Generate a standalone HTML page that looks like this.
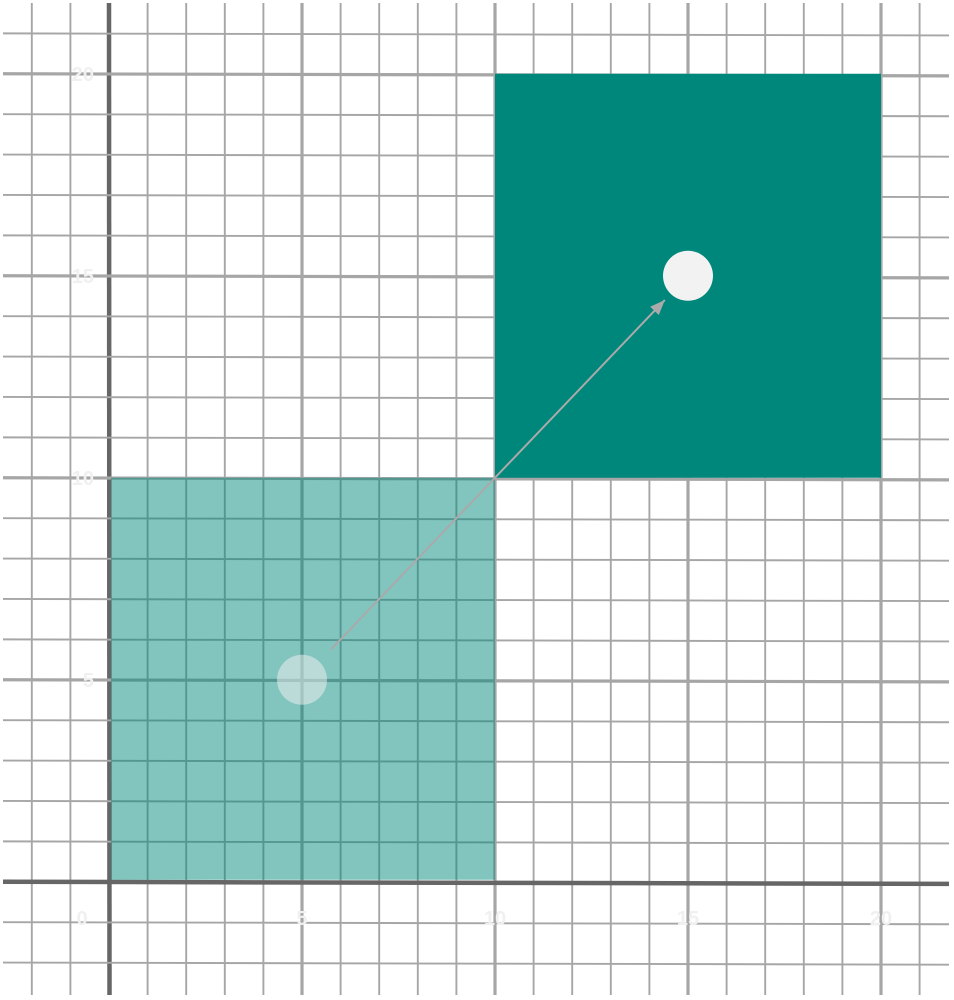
<!DOCTYPE html>
<html><head><meta charset="utf-8"><style>
html,body{margin:0;padding:0;background:#fff;width:954px;height:1000px;overflow:hidden}
svg{display:block}
text{font-family:"Liberation Sans",sans-serif;font-size:20px;fill:#f0f0f0}
</style></head><body>
<svg id="chart" width="954" height="1000" viewBox="0 0 954 1000"></svg>
<script>
const xTicks=[0,5,10,15,20];
const yTicks=[5,10,15,20];
const xTickLabels=["0","5","10","15","20"];
const yTickLabels=["5","10","15","20"];
const squareLow=[0,0,10,10];
const squareHigh=[10,10,20,20];
const pointStart=[5,5];
const pointEnd=[15,15];
const arrowFrom=[5.75,5.75];
const arrowTo=[14.4,14.4];
const xMin=-2.8,xMax=21.8,yMin=-2.8,yMax=21.8;

const X=u=>109+38.6*u;
const Y=(v,px)=>882-40.4*v+((px||0)-108)*0.0022;
const NS="http://www.w3.org/2000/svg";
const svg=document.getElementById('chart');
function mk(tag,attrs){const e=document.createElementNS(NS,tag);for(const k in attrs)e.setAttribute(k,attrs[k]);svg.appendChild(e);return e;}

// grid
for(let u=Math.ceil(xMin);u<=Math.floor(xMax);u++){
  const major=u%5===0;
  const l=mk('line',{x1:X(u),y1:3,x2:X(u)+(u===0?0.5:0),y2:995,stroke:u===0?'#666':'#a6a6a6','stroke-width':u===0?4.5:(major?3.2:1.9)});
  
  
}
for(let v=Math.ceil(yMin);v<=Math.floor(yMax);v++){
  const major=v%5===0;
  const l=mk('line',{x1:3,y1:Y(v,3),x2:949,y2:Y(v,949),stroke:v===0?'#666':'#a6a6a6','stroke-width':v===0?4.5:(major?3.2:1.9)});
  
  
}

// light square (over grid, semi-transparent)
let e=mk('rect',{x:X(squareLow[0])+2,y:Y(squareLow[3]),width:X(squareLow[2])-X(squareLow[0])-2,height:Y(squareLow[1])-Y(squareLow[3])-2,fill:'rgba(0,135,123,0.49)'});



// dark square (over grid)
e=mk('rect',{x:X(squareHigh[0]),y:Y(squareHigh[3]),width:X(squareHigh[2])-X(squareHigh[0]),height:Y(squareHigh[1])-Y(squareHigh[3]),fill:'#00877b'});



// arrow
const ax1=X(arrowFrom[0]),ay1=Y(arrowFrom[1]),ax2=X(arrowTo[0]),ay2=Y(arrowTo[1]);
e=mk('line',{x1:ax1,y1:ay1,x2:ax2,y2:ay2,stroke:'#aaa','stroke-width':2});


const ang=Math.atan2(ay2-ay1,ax2-ax1),L=15,W=6;
const bx=ax2-L*Math.cos(ang),by=ay2-L*Math.sin(ang);
e=mk('polygon',{points:`${ax2},${ay2} ${bx+W*Math.sin(ang)},${by-W*Math.cos(ang)} ${bx-W*Math.sin(ang)},${by+W*Math.cos(ang)}`,fill:'#aaa'});



// points
e=mk('circle',{cx:X(pointStart[0]),cy:Y(pointStart[1]),r:25,fill:'rgba(242,242,242,0.5)'});


e=mk('circle',{cx:X(pointEnd[0]),cy:Y(pointEnd[1]),r:25,fill:'#f2f2f2'});



// labels
xTicks.forEach((t,i)=>{
  const tx=mk('text',{x:t===0?X(t)-27:X(t),y:925,'text-anchor':'middle','font-weight':'bold'});
  tx.textContent=xTickLabels[i];
  
  
});
yTicks.forEach((t,i)=>{
  const tx=mk('text',{x:94,y:Y(t)+7,'text-anchor':'end','font-weight':'bold'});
  tx.textContent=yTickLabels[i];
  
  
});
</script>
</body></html>
